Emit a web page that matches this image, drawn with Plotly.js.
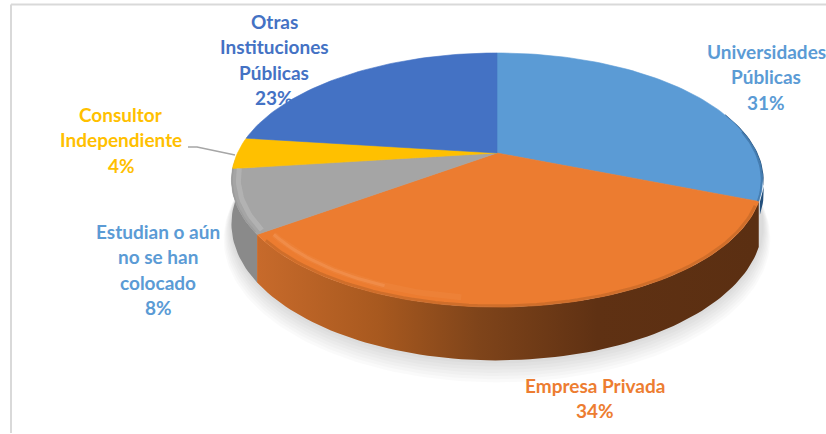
<!DOCTYPE html>
<html><head><meta charset="utf-8">
<script src="https://cdn.plot.ly/plotly-3.0.1.min.js"></script>
<style>html,body{margin:0;padding:0;background:#fff;overflow:hidden}#c{width:826px;height:434px}</style>
</head><body><div id="c"></div>
<script>
var categories = ["Universidades Públicas","Empresa Privada","Estudian o aún no se han colocado","Consultor Independiente","Otras Instituciones Públicas"];
var shares = [31,34,8,4,23];
var labelLines = [["Universidades","Públicas","31%"],["Empresa Privada","34%"],["Estudian o aún","no se han","colocado","8%"],["Consultor","Independiente","4%"],["Otras","Instituciones","Públicas","23%"]];
var topColors = ["#5B9BD5","#EC7C30","#A5A5A5","#FFC000","#4472C4"];
var textColors = ["#5B9BD5","#ED7D31","#5B9BD5","#FFC000","#4472C4"];
var labelX = [766,595,158,121,274];
var labelY = [51,385,231,114,21];

// projection of the tilted disc (perspective) onto the hidden pixel axes
var cx=497, cy=153, A=259.5, B=121.3, k=0.2126, depth0=42;
function proj(deg,r,depth){
  var t=deg*Math.PI/180,u=r*Math.sin(t),v=r*Math.cos(t),d=1+k*v;
  return [cx+A*u/d, cy-B*v/d+(depth||0)/d];
}
function arc(a,b,r,depth){
  var n=Math.max(2,Math.ceil(Math.abs(b-a)/1.5)),p=[];
  for(var i=0;i<=n;i++)p.push(proj(a+(b-a)*i/n,r,depth));
  return p;
}
function poly(pts,fill,extra){
  var t={type:"scatter",mode:"lines",x:pts.map(function(p){return p[0]}),y:pts.map(function(p){return p[1]}),
    fill:"toself",fillcolor:fill,line:{width:0},hoverinfo:"skip",showlegend:false};
  for(var e in extra)t[e]=extra[e];
  return t;
}
function stroke(a,b,r,color,w,op){
  var pts=arc(a,b,r,0);
  return {type:"scatter",mode:"lines",x:pts.map(function(p){return p[0]}),y:pts.map(function(p){return p[1]}),
    line:{color:color,width:w},opacity:op,hoverinfo:"skip",showlegend:false};
}
var traces=[];
// soft shadow under the disc
for(var s=7;s>=1;s--){
  traces.push(poly(arc(0,360,1+0.004*s,depth0+1.8*s),"rgba(0,0,0,0.02)"));
}
// slice angles from the values
var total=shares.reduce(function(a,b){return a+b},0),ang=[0];
shares.forEach(function(v,i){ang.push(ang[i]+v/total*360)});
function wall(a,b){return arc(a,b,1,0).concat(arc(b,a,1,depth0));}
// side walls
traces.push(poly(wall(ang[2],ang[3]+5),"#8A8A8A"));
traces.push(poly(arc(70,ang[1],1.004,0).concat(arc(ang[1],70,1.004,12)),"#24507C"));
traces.push(poly(wall(ang[1],ang[2]),"#C4682A",{fillgradient:{type:"horizontal",start:258,stop:757,
  colorscale:[[0,"#C76A2B"],[0.24,"#A8591F"],[0.44,"#7F441A"],[0.68,"#5F3113"],[1,"#5B2F12"]]}}));
// top faces
for(var i=0;i<shares.length;i++){
  var pts=[proj(0,0,0)].concat(arc(ang[i],ang[i+1],1,0));
  pts.push(proj(0,0,0));
  var t=poly(pts,topColors[i]);
  t.name=categories[i];
  t.line={width:0.6,color:topColors[i]};
  traces.push(t);
}
// bevel on the rim: layered soft strokes
traces.push(stroke(ang[1]+2,ang[2]-3,0.994,"#A85A24",3,0.4));
traces.push(stroke(ang[1]+75,ang[2]-2,0.955,"#F49A5E",6,0.16));
traces.push(stroke(ang[1]+90,ang[2]-2,0.955,"#F8A670",3,0.3));
traces.push(stroke(ang[2]+1,ang[3],0.975,"#BDBDBD",5,0.55));
traces.push(stroke(ang[2]+1,ang[3],0.998,"#969696",1.5,0.6));
traces.push(stroke(ang[1]-32,ang[1],0.997,"#2F5F8E",2,0.5));

var annotations=[];
labelLines.forEach(function(lines,i){
  lines.forEach(function(txt,j){
    annotations.push({xref:"x",yref:"y",x:labelX[i],y:labelY[i]+j*25.6,text:"<b>"+txt+"</b>",showarrow:false,
      xanchor:"center",yanchor:"middle",font:{family:"Lato",size:19,color:textColors[i]}});
  });
});
var shapes=[
  {type:"line",xref:"x",yref:"y",x0:11,y0:4.5,x1:826,y1:4.5,line:{color:"#D9D9D9",width:2}},
  {type:"line",xref:"x",yref:"y",x0:11,y0:4.5,x1:11,y1:433,line:{color:"#D9D9D9",width:2}},
  {type:"path",xref:"x",yref:"y",path:"M188,147 L197,147 L235,155",line:{color:"#A6A6A6",width:1.5},layer:"above"}
];
var axis={visible:false,fixedrange:true,showgrid:false,zeroline:false};
Plotly.newPlot("c",traces,{
  width:826,height:434,margin:{l:0,r:0,t:0,b:0},
  paper_bgcolor:"#fff",plot_bgcolor:"#fff",showlegend:false,hovermode:false,
  xaxis:Object.assign({range:[0,826]},axis),
  yaxis:Object.assign({range:[434,0]},axis),
  annotations:annotations,shapes:shapes
},{displayModeBar:false,staticPlot:true});
</script></body></html>
